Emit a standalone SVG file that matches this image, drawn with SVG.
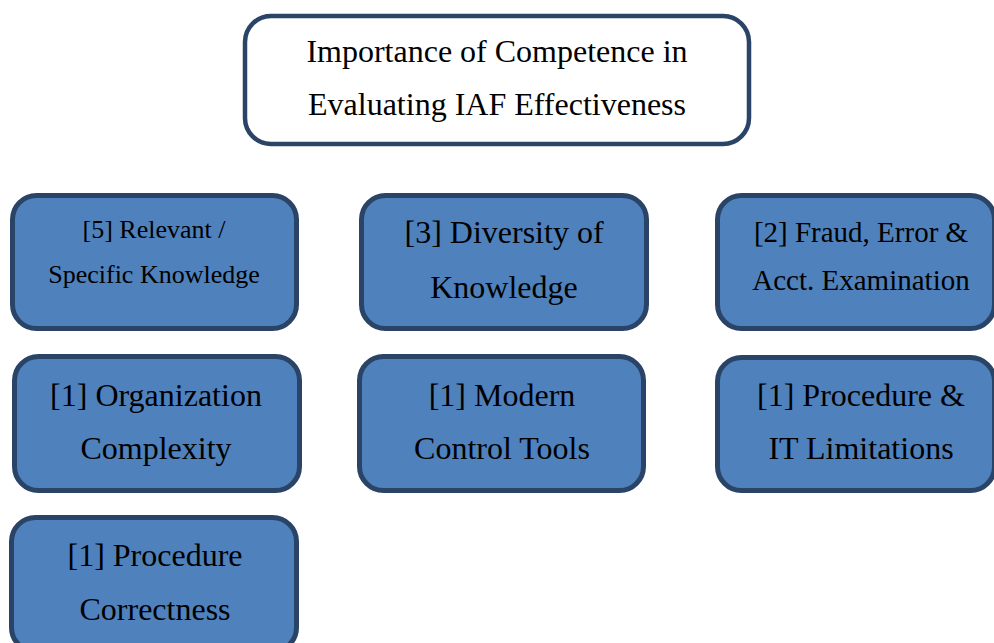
<svg xmlns="http://www.w3.org/2000/svg" width="994" height="643" viewBox="0 0 994 643">
<style>
.box{fill:#4f81bd;stroke:#2a4468;stroke-width:5}
.title{fill:#ffffff;stroke:#2a4468;stroke-width:4.5}
text{fill:#000;text-anchor:middle}
.t32{font-size:32px}
.t29{font-size:29px}
.t26{font-size:26px}
</style>
<rect width="994" height="643" fill="#ffffff"/>
<g id="connectors"></g>
<g font-family="'Liberation Serif', Tinos, 'Times New Roman', Times, 'DejaVu Serif', serif">
<g id="title">
<rect class="title" x="245" y="16" width="504" height="128" rx="26"/>
<text class="t32" x="497" y="62">Importance of Competence in</text>
<text class="t32" x="497" y="115">Evaluating IAF Effectiveness</text>
</g>
<g id="relevant">
<rect class="box" x="12.5" y="195.5" width="284" height="133" rx="24"/>
<text class="t26" x="154" y="238">[5] Relevant /</text>
<text class="t26" x="154" y="283">Specific Knowledge</text>
</g>
<g id="diversity">
<rect class="box" x="361.5" y="195.5" width="285" height="133" rx="24"/>
<text class="t32" x="504" y="243">[3] Diversity of</text>
<text class="t32" x="504" y="298">Knowledge</text>
</g>
<g id="fraud">
<rect class="box" x="717.5" y="195.5" width="277" height="133" rx="24"/>
<text class="t29" x="861" y="242">[2] Fraud, Error &amp;</text>
<text class="t29" x="861" y="290">Acct. Examination</text>
</g>
<g id="organization">
<rect class="box" x="14.5" y="356.5" width="285" height="134" rx="24"/>
<text class="t32" x="156" y="406">[1] Organization</text>
<text class="t32" x="156" y="459">Complexity</text>
</g>
<g id="modern">
<rect class="box" x="359.5" y="356.5" width="284" height="134" rx="24"/>
<text class="t32" x="502" y="406">[1] Modern</text>
<text class="t32" x="502" y="459">Control Tools</text>
</g>
<g id="limitations">
<rect class="box" x="717.5" y="357.5" width="277" height="133" rx="24"/>
<text class="t32" x="861" y="406">[1] Procedure &amp;</text>
<text class="t32" x="861" y="459">IT Limitations</text>
</g>
<g id="correctness">
<rect class="box" x="11.5" y="517.5" width="285" height="134" rx="24"/>
<text class="t32" x="155" y="566">[1] Procedure</text>
<text class="t32" x="155" y="620">Correctness</text>
</g>
</g>
</svg>
